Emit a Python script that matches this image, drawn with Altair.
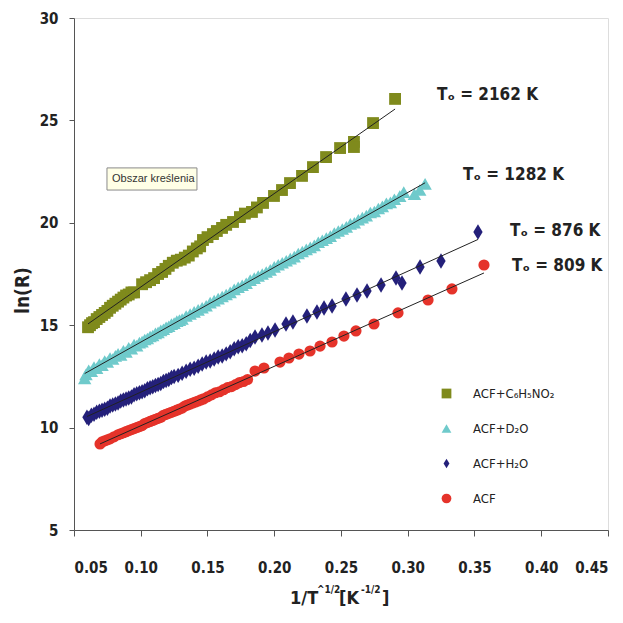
import altair as alt
import pandas as pd

# ---------------- data ----------------
names = ["ACF+C₆H₅NO₂", "ACF+D₂O", "ACF+H₂O", "ACF"]
colors = ["#7f8a1c", "#6fcacb", "#24207a", "#e5332a"]
shapes = ["square", "triangle-up", "M0,-1L0.6,0L0,1L-0.6,0Z", "circle"]
sizes = [140, 180, 240, 125]

green_x = [0.0605, 0.062, 0.0635, 0.065, 0.067, 0.069, 0.071, 0.073, 0.075, 0.077,
           0.079, 0.081, 0.083, 0.085, 0.087, 0.089, 0.091, 0.093, 0.095, 0.101,
           0.104, 0.107, 0.110, 0.113, 0.116, 0.1185, 0.121, 0.124, 0.127, 0.130,
           0.133, 0.136, 0.139, 0.142, 0.1445, 0.1466, 0.150, 0.1541, 0.157, 0.1609,
           0.164, 0.1691, 0.1743, 0.178, 0.1833, 0.187, 0.1916, 0.1998, 0.2058, 0.2118,
           0.2208, 0.229, 0.2388, 0.2493, 0.2597, 0.2597, 0.274, 0.2905]
green_y = [14.9, 15.0, 15.1, 15.15, 15.3, 15.4, 15.5, 15.6, 15.7, 15.85,
           15.95, 16.05, 16.15, 16.25, 16.35, 16.45, 16.5, 16.6, 16.6, 17.0,
           17.1, 17.2, 17.3, 17.5, 17.6, 17.75, 17.9, 18.05, 18.15, 18.2,
           18.3, 18.4, 18.6, 18.75, 18.85, 19.16, 19.3, 19.45, 19.6, 19.75,
           19.9, 20.04, 20.28, 20.45, 20.53, 20.75, 20.97, 21.31, 21.6, 21.94,
           22.29, 22.72, 23.21, 23.65, 23.95, 23.7, 24.87, 26.05]

cyan_x = [0.058, 0.059, 0.061, 0.063, 0.065, 0.067, 0.069, 0.071, 0.073, 0.075,
          0.077, 0.079, 0.081, 0.083, 0.085, 0.087, 0.089, 0.091, 0.093, 0.095,
          0.097, 0.099, 0.101, 0.103, 0.105, 0.107, 0.109, 0.111, 0.113, 0.115,
          0.117, 0.119, 0.121, 0.123, 0.125, 0.127, 0.129, 0.131, 0.134, 0.137,
          0.140, 0.143, 0.146, 0.149, 0.152, 0.155, 0.158, 0.161, 0.164, 0.167,
          0.170, 0.173, 0.176, 0.179, 0.182, 0.185, 0.188, 0.191, 0.194, 0.197,
          0.200, 0.203, 0.206, 0.209, 0.212, 0.215, 0.218, 0.221, 0.224, 0.227,
          0.230, 0.233, 0.236, 0.239, 0.242, 0.245, 0.248, 0.251, 0.254, 0.257,
          0.260, 0.263, 0.266, 0.269, 0.272, 0.275, 0.278, 0.281, 0.284, 0.287,
          0.290, 0.294, 0.297, 0.305, 0.309, 0.313]
cyan_y = [12.4, 12.6, 12.8, 12.75, 12.95, 12.9, 13.1, 13.05, 13.25, 13.2,
          13.4, 13.35, 13.5, 13.6, 13.55, 13.75, 13.7, 13.9, 13.85, 14.05,
          14.0, 14.15, 14.2, 14.3, 14.35, 14.45, 14.5, 14.6, 14.65, 14.75,
          14.8, 14.9, 14.95, 15.05, 15.1, 15.2, 15.25, 15.3, 15.45, 15.55,
          15.65, 15.75, 15.85, 15.95, 16.1, 16.2, 16.3, 16.4, 16.5, 16.6,
          16.75, 16.85, 16.95, 17.05, 17.2, 17.3, 17.4, 17.5, 17.6, 17.7,
          17.85, 17.95, 18.05, 18.15, 18.25, 18.35, 18.5, 18.6, 18.7, 18.8,
          18.9, 19.05, 19.15, 19.25, 19.35, 19.5, 19.6, 19.7, 19.8, 19.95,
          20.0, 20.15, 20.25, 20.35, 20.5, 20.55, 20.7, 20.8, 20.95, 21.0,
          21.15, 21.3, 21.5, 21.4, 21.6, 21.9]

blue_x = [0.0597, 0.061, 0.063, 0.065, 0.067, 0.069, 0.071, 0.073, 0.075, 0.077,
          0.079, 0.081, 0.083, 0.085, 0.087, 0.089, 0.091, 0.093, 0.095, 0.097,
          0.099, 0.101, 0.103, 0.105, 0.107, 0.109, 0.111, 0.113, 0.115, 0.117,
          0.119, 0.121, 0.123, 0.125, 0.128, 0.131, 0.134, 0.137, 0.140, 0.143,
          0.146, 0.149, 0.152, 0.155, 0.158, 0.161, 0.164, 0.167, 0.170, 0.173,
          0.176, 0.179, 0.182, 0.1856, 0.1908, 0.1953, 0.2006, 0.2088, 0.214, 0.2245,
          0.232, 0.2373, 0.2433, 0.2537, 0.262, 0.2695, 0.280, 0.2912, 0.2957, 0.3092,
          0.3249, 0.3526]
blue_y = [10.5, 10.45, 10.6, 10.65, 10.75, 10.8, 10.85, 10.9, 10.95, 11.05,
          11.1, 11.15, 11.2, 11.3, 11.35, 11.4, 11.45, 11.5, 11.6, 11.65,
          11.7, 11.75, 11.8, 11.9, 11.95, 12.0, 12.05, 12.1, 12.15, 12.25,
          12.3, 12.35, 12.45, 12.5, 12.55, 12.65, 12.75, 12.85, 12.9, 13.0,
          13.1, 13.2, 13.25, 13.35, 13.45, 13.5, 13.6, 13.7, 13.85, 13.95,
          14.0, 14.1, 14.25, 14.42, 14.52, 14.62, 14.77, 15.06, 15.16, 15.45,
          15.64, 15.84, 15.94, 16.28, 16.47, 16.67, 16.96, 17.3, 17.06, 17.84,
          18.13, 19.55]

red_x = [0.0695, 0.071, 0.073, 0.075, 0.077, 0.080, 0.083, 0.085, 0.087, 0.089,
         0.091, 0.093, 0.095, 0.097, 0.099, 0.101, 0.103, 0.105, 0.107, 0.109,
         0.111, 0.113, 0.115, 0.117, 0.119, 0.121, 0.123, 0.125, 0.127, 0.129,
         0.131, 0.133, 0.135, 0.137, 0.139, 0.141, 0.143, 0.145, 0.147, 0.150,
         0.153, 0.156, 0.159, 0.162, 0.165, 0.168, 0.171, 0.174, 0.177, 0.180,
         0.1856, 0.1923, 0.2043, 0.211, 0.2185, 0.2268, 0.2343, 0.2433, 0.2522, 0.2612,
         0.2747, 0.2927, 0.3152, 0.3331, 0.3571]
red_y = [9.2, 9.3, 9.35, 9.4, 9.45, 9.55, 9.65, 9.7, 9.75, 9.8,
         9.85, 9.9, 9.95, 10.0, 10.05, 10.1, 10.2, 10.25, 10.3, 10.35,
         10.4, 10.45, 10.5, 10.6, 10.65, 10.7, 10.75, 10.8, 10.85, 10.9,
         10.95, 11.05, 11.1, 11.15, 11.2, 11.25, 11.3, 11.35, 11.4, 11.5,
         11.6, 11.7, 11.75, 11.85, 11.95, 12.0, 12.1, 12.2, 12.25, 12.35,
         12.76, 12.91, 13.2, 13.4, 13.59, 13.74, 13.98, 14.18, 14.47, 14.72,
         15.06, 15.6, 16.23, 16.77, 17.94]

x_ticks = [0.05, 0.10, 0.15, 0.20, 0.25, 0.30, 0.35, 0.40, 0.45]
y_ticks = [5, 10, 15, 20, 25, 30]

ann_text = ["Tₒ = 2162 K", "Tₒ = 1282 K", "Tₒ = 876 K", "Tₒ = 809 K"]
ann_x = [0.3219, 0.3414, 0.3766, 0.3781]
ann_y = [26.24, 22.33, 19.6, 17.89]

box_text = ["Obszar kreślenia"]
box_x = [0.0747]
box_x2 = [0.1421]
box_y = [22.68]
box_y2 = [21.60]
box_tx = [0.0785]
box_ty = [22.14]

# ---------------- build tables ----------------
rows = []
for nm, xs, ys in zip(names, [green_x, cyan_x, blue_x, red_x], [green_y, cyan_y, blue_y, red_y]):
    for a, b in zip(xs, ys):
        rows.append({"series": nm, "x": a, "y": b})
df = pd.DataFrame(rows)
ann = pd.DataFrame({"t": ann_text, "x": ann_x, "y": ann_y})
box = pd.DataFrame({"t": box_text, "x": box_x, "x2": box_x2, "y": box_y, "y2": box_y2,
                    "tx": box_tx, "ty": box_ty})

FONT = "Liberation Sans Narrow, DejaVu Sans Condensed, Liberation Sans, sans-serif"

xs = alt.Scale(domain=[0.05, 0.45], nice=False, zero=False)
ys = alt.Scale(domain=[5, 30], nice=False, zero=False)

legend = alt.Legend(orient="none", legendX=366, legendY=369, title=None,
                    labelFont=FONT, labelFontSize=13, labelColor="#222",
                    rowPadding=21, labelOffset=20, symbolSize=95, padding=0,
                    symbolStrokeWidth=0, labelLimit=300)

xaxis = alt.Axis(values=x_ticks, format=".2f", labelFont=FONT, labelFontSize=15,
                 labelFontWeight="bold", labelColor="#222", labelPadding=24, tickSize=6,
                 domainColor="#555", tickColor="#555", grid=False, title=None)
yaxis = alt.Axis(values=y_ticks, format="d", labelFont=FONT, labelFontSize=15,
                 labelFontWeight="bold", labelColor="#222", labelPadding=11, tickSize=5,
                 domainColor="#555", tickColor="#555", grid=False, title="ln(R)",
                 titleFont=FONT, titleFontSize=19, titleFontWeight="bold", titleColor="#222",
                 titleX=-52, titleY=272, titleAngle=-90, titleAlign="center",
                 titleBaseline="middle")

point_layers = []
for nm, sz in zip(names, sizes):
    point_layers.append(
        alt.Chart(df).transform_filter(alt.datum.series == nm)
        .mark_point(filled=True, opacity=1, size=sz).encode(
            x=alt.X("x:Q", scale=xs, axis=xaxis),
            y=alt.Y("y:Q", scale=ys, axis=yaxis),
            color=alt.Color("series:N", scale=alt.Scale(domain=names, range=colors), legend=legend),
            shape=alt.Shape("series:N", scale=alt.Scale(domain=names, range=shapes), legend=legend),
        )
    )

lines = alt.Chart(df).transform_regression(
    "x", "y", groupby=["series"]
).mark_line(color="#222", strokeWidth=1).encode(
    x=alt.X("x:Q", scale=xs, axis=xaxis),
    y=alt.Y("y:Q", scale=ys, axis=yaxis),
    detail="series:N",
)

labels = alt.Chart(ann).mark_text(align="left", baseline="middle", font=FONT,
                                  fontSize=17, fontWeight="bold", color="#222").encode(
    x=alt.X("x:Q", scale=xs, axis=xaxis), y=alt.Y("y:Q", scale=ys, axis=yaxis), text="t:N")

boxrect = alt.Chart(box).mark_rect(fill="#ffffe6", stroke="#8a8a8a", strokeWidth=1).encode(
    x=alt.X("x:Q", scale=xs, axis=xaxis), x2="x2:Q",
    y=alt.Y("y:Q", scale=ys, axis=yaxis), y2="y2:Q")
boxtext = alt.Chart(box).mark_text(align="left", baseline="middle", font="Liberation Sans",
                                   fontSize=11, color="#333").encode(
    x=alt.X("tx:Q", scale=xs, axis=xaxis), y=alt.Y("ty:Q", scale=ys, axis=yaxis), text="t:N")

# x-axis title with superscripts, built from text pieces
title_parts = [("1/T", 216, 586, 18), ("^1/2", 243, 575, 10), ("[K", 265, 586, 18),
               ("-1/2", 287, 575, 10), ("]", 308, 586, 18)]
tlayers = []
for txt, px, py, fs in title_parts:
    tlayers.append(alt.Chart(pd.DataFrame({"t": [txt]})).mark_text(
        align="left", baseline="alphabetic", font=FONT, fontSize=fs, fontWeight="bold",
        color="#222").encode(x=alt.value(px), y=alt.value(py), text="t:N"))

chart = alt.layer(*point_layers, lines, labels, boxrect, boxtext, *tlayers).properties(
    width=534, height=512,
    autosize=alt.AutoSizeParams(type="none"),
    padding={"left": 66, "top": 10, "right": 7, "bottom": 85},
).configure_view(stroke="#666", strokeWidth=1).configure(background="white")

chart.save("out.html", embed_options={"renderer": "svg", "actions": False})
